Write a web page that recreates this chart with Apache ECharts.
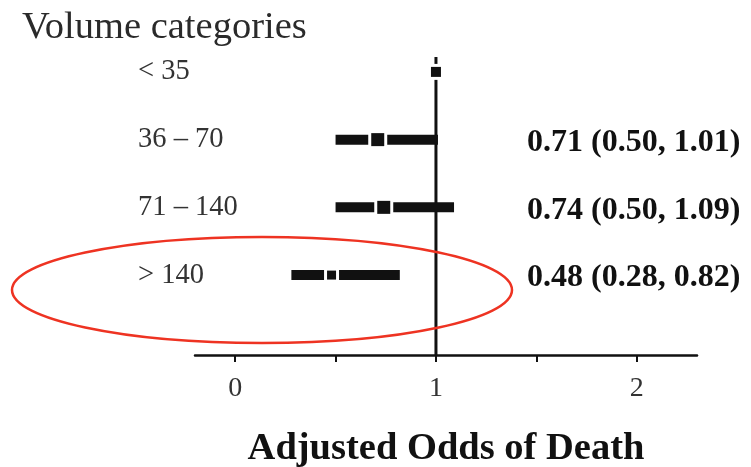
<!DOCTYPE html>
<html>
<head>
<meta charset="utf-8">
<script src="https://cdn.jsdelivr.net/npm/echarts@6/dist/echarts.min.js"></script>
<style>html,body{margin:0;padding:0;background:#fff;}#c{width:751px;height:467px;}</style>
</head>
<body>
<div id="c"></div>
<script>
// ---- data ----
const categories = ['< 35', '36 – 70', '71 – 140', '> 140'];
const estimates  = [1, 0.71, 0.74, 0.48];
const lowerCI    = [null, 0.50, 0.50, 0.28];
const upperCI    = [null, 1.01, 1.09, 0.82];
const xTickValues  = [0, 0.5, 1, 1.5, 2];
const xLabelValues = [0, 1, 2];
const referenceValue = 1;
const axisTitle = 'Adjusted Odds of Death';
const chartTitle = 'Volume categories';

// ---- style ----
const markerSizes = [10, 13, 13, 9];
const SERIF = '"Liberation Serif", "DejaVu Serif", serif';

const n = categories.length;
const rowData = categories.map((c, i) => [n - i, estimates[i], lowerCI[i], upperCI[i], i]);
const rowValues = categories.map((c, i) => n - i);

const chart = echarts.init(document.getElementById('c'));
chart.setOption({
  animation: false,
  backgroundColor: '#fff',
  title: {
    text: chartTitle, left: 17, top: 3,
    textStyle: { fontFamily: SERIF, fontSize: 38.5, fontWeight: 'normal', color: '#2a2a2a' }
  },
  grid: { left: 195, right: 54, top: 57, bottom: 112, containLabel: false, outerBoundsMode: 'none' },
  xAxis: {
    type: 'value', min: -0.2, max: 2.3,
    splitLine: { show: false },
    axisLine: { onZero: false, lineStyle: { color: '#111', width: 2.5 } },
    axisTick: { customValues: xTickValues, length: 7, lineStyle: { color: '#111', width: 2 } },
    axisLabel: { customValues: xLabelValues, fontFamily: SERIF, fontSize: 28, color: '#333', margin: 20 },
    name: axisTitle, nameLocation: 'middle', nameGap: 75,
    nameTextStyle: { fontFamily: SERIF, fontSize: 38.5, fontWeight: 'bold', color: '#111' }
  },
  yAxis: {
    type: 'value', min: -0.18, max: 4.22,
    splitLine: { show: false }, axisLine: { show: false }, axisTick: { show: false },
    axisLabel: {
      customValues: rowValues,
      formatter: v => categories[n - Math.round(v)],
      align: 'left', margin: 57,
      fontFamily: SERIF, fontSize: 28.5, color: '#333'
    }
  },
  graphic: [{
    type: 'ellipse', z: 100,
    shape: { cx: 262, cy: 290, rx: 250, ry: 53 },
    style: { fill: 'none', stroke: '#ee3322', lineWidth: 2.5 }
  }],
  series: [
    {
      type: 'custom', z: 1,
      data: [[referenceValue]],
      renderItem: (params, api) => {
        const cs = params.coordSys;
        const x = api.coord([api.value(0), 0])[0];
        return { type: 'line', shape: { x1: x, y1: cs.y, x2: x, y2: cs.y + cs.height },
                 style: { stroke: '#111', lineWidth: 3 } };
      }
    },
    {
      type: 'custom', z: 2,
      data: rowData,
      renderItem: (params, api) => {
        const cs = params.coordSys;
        const row = api.value(0), est = api.value(1), lo = api.value(2), hi = api.value(3);
        const idx = api.value(4);
        const p = api.coord([est, row]);
        const s = markerSizes[idx];
        const children = [];
        const hasCI = lo != null && !isNaN(lo) && hi != null && !isNaN(hi);
        if (hasCI) {
          const a = api.coord([lo, row]), b = api.coord([hi, row]);
          children.push({ type: 'rect', shape: { x: a[0], y: p[1] - 5, width: b[0] - a[0], height: 10 },
                          style: { fill: '#111' } });
        }
        children.push({ type: 'rect', shape: { x: p[0] - s / 2 - 3, y: p[1] - s / 2 - 3, width: s + 6, height: s + 6 },
                        style: { fill: '#fff' } });
        children.push({ type: 'rect', shape: { x: p[0] - s / 2, y: p[1] - s / 2, width: s, height: s },
                        style: { fill: '#111' } });
        if (hasCI) {
          children.push({ type: 'text', style: {
            text: est.toFixed(2) + ' (' + lo.toFixed(2) + ', ' + hi.toFixed(2) + ')',
            x: cs.x + cs.width - 170, y: p[1] + 3, align: 'left', verticalAlign: 'middle',
            fontFamily: SERIF, fontSize: 32, fontWeight: 'bold', fill: '#111'
          }});
        }
        return { type: 'group', children };
      }
    }
  ]
});
</script>
</body>
</html>
